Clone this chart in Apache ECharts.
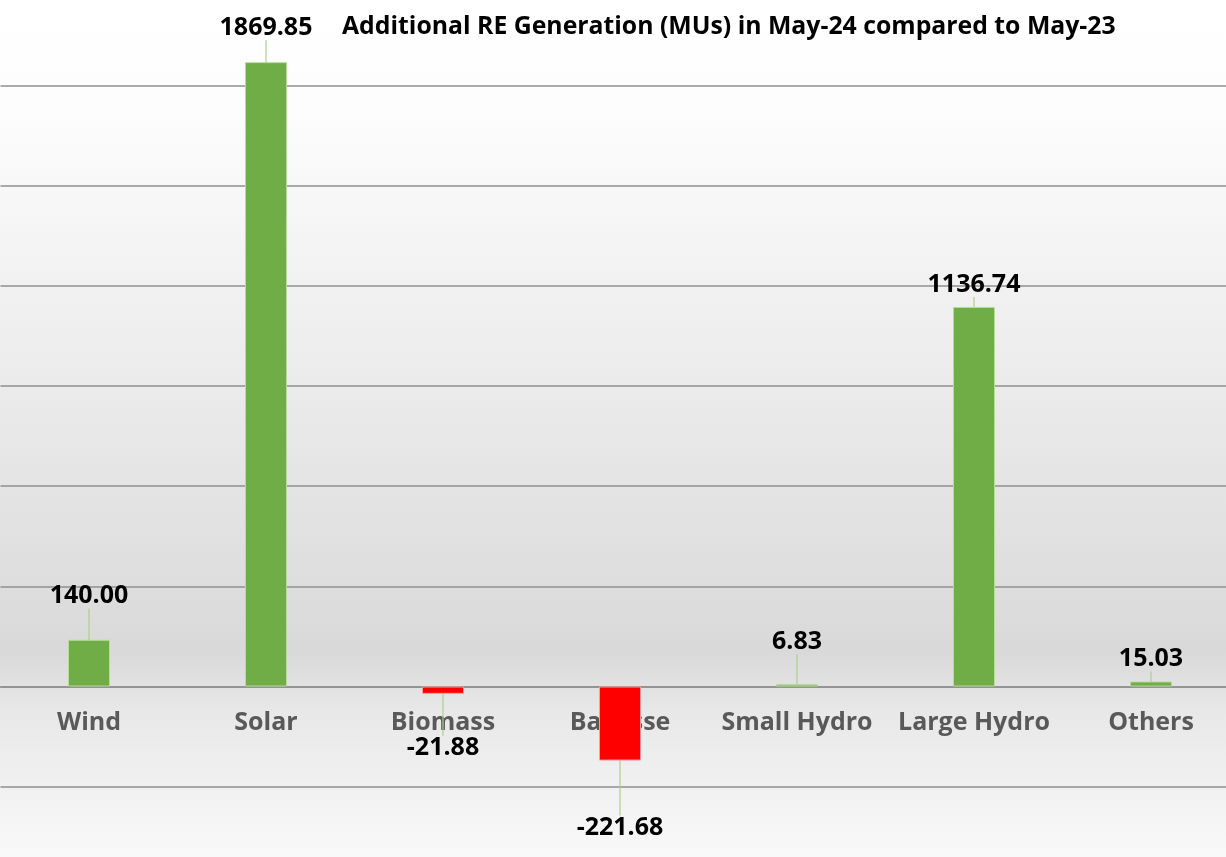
<!DOCTYPE html>
<html>
<head>
<meta charset="utf-8">
<script src="https://cdn.jsdelivr.net/npm/echarts@6/dist/echarts.min.js"></script>
<style>
  html, body { margin: 0; padding: 0; }
  #main { width: 1226px; height: 857px; }
</style>
</head>
<body>
<div id="main"></div>
<script>
// categories and values
const categories = ['Wind', 'Solar', 'Biomass', 'Bagasse', 'Small Hydro', 'Large Hydro', 'Others']
const additionalMU = [140.00, 1869.85, -21.88, -221.68, 6.83, 1136.74, 15.03]

// how far each data label is pushed away from its bar (px)
const labelShift = [-26, -17, 37, 50, -25, -5, -5]

const chart = echarts.init(document.getElementById('main'))

const seriesData = additionalMU.map((v) => {
  const neg = v < 0
  return {
    value: v,
    itemStyle: {
      color: neg ? '#ff0000' : '#70ad47',
      borderColor: neg ? '#ff9a9a' : '#b5dc9b',
    },
    label: { position: neg ? 'bottom' : 'top' },
  }
})

const option = {
  backgroundColor: {
    type: 'linear', x: 0, y: 0, x2: 0, y2: 1,
    colorStops: [
      { offset: 0, color: '#ffffff' },
      { offset: 0.12, color: '#fdfdfd' },
      { offset: 0.45, color: '#ebebeb' },
      { offset: 0.76, color: '#d9d9d9' },
      { offset: 0.83, color: '#e8e8e8' },
      { offset: 1, color: '#f9f9f9' },
    ],
  },
  textStyle: { fontFamily: 'Open Sans' },
  title: {
    text: 'Additional RE Generation (MUs) in May-24 compared to May-23',
    left: 337,
    top: 9,
    textStyle: { fontFamily: 'Open Sans', fontWeight: 'bold', fontSize: 24.8, color: '#000' },
  },
  grid: { outerBoundsMode: 'none', left: 0.5, width: 1239, top: 0, bottom: 70.3 },
  xAxis: {
    type: 'category',
    data: categories,
    offset: -100.2,
    axisLine: { onZero: false, lineStyle: { color: '#8f8f8f', width: 1.5 } },
    axisTick: { show: false },
    axisLabel: {
      interval: 0,
      margin: 24,
      color: '#595959',
      fontFamily: 'Open Sans',
      fontWeight: 'bold',
      fontSize: 25,
    },
  },
  yAxis: {
    type: 'value',
    min: -300,
    max: 2056,
    interval: 300,
    axisLabel: { show: false },
    axisLine: { show: false },
    axisTick: { show: false },
    splitLine: { showMaxLine: false, lineStyle: { color: '#8f8f8f', width: 1.5 } },
  },
  series: [
    {
      type: 'bar',
      data: seriesData,
      barWidth: 42,
      itemStyle: { borderWidth: 1 },
      label: {
        show: true,
        distance: 5,
        color: '#000',
        fontFamily: 'Open Sans',
        fontWeight: 'bold',
        fontSize: 25,
        formatter: (p) => p.value.toFixed(2),
      },
      labelLayout: (params) => ({ dy: labelShift[params.dataIndex] }),
      labelLine: {
        show: true,
        lineStyle: { color: '#a9d18e', width: 1.2 },
      },
    },
  ],
}

chart.setOption(option)
window.addEventListener('resize', () => chart.resize())
</script>
</body>
</html>
